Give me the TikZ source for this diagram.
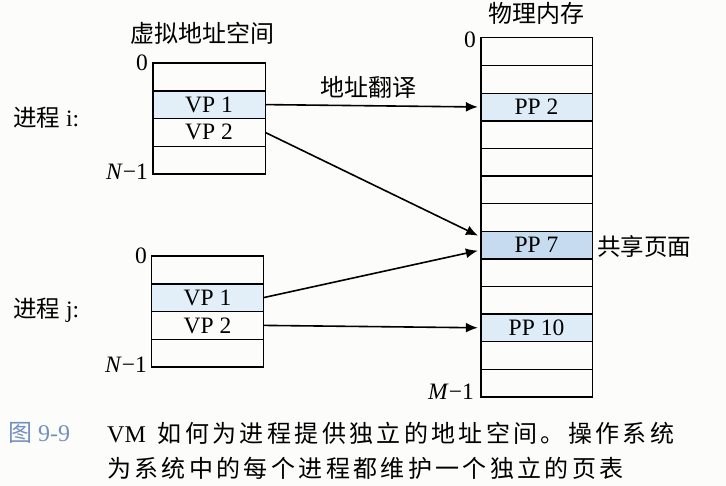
\documentclass[tikz,border=0pt]{standalone}
\usepackage{fontspec}
\setmainfont{Liberation Serif}
\newfontfamily\cjk{Noto Sans CJK SC}
\newfontfamily\cjkcap{Noto Sans CJK SC}[LetterSpace=14]
\usetikzlibrary{arrows.meta}
\definecolor{bg}{RGB}{252,252,250}
\definecolor{vpfill}{RGB}{226,238,248}
\definecolor{ppfill}{RGB}{222,236,248}
\definecolor{sharefill}{RGB}{198,219,240}
\definecolor{capblue}{RGB}{115,145,190}
\tikzset{
  cell/.style={minimum width=112pt, minimum height=27.75pt,
    inner sep=0pt, font=\fontsize{23.5}{23.5}\selectfont},
  memcell/.style={cell, minimum width=111pt, minimum height=27.6pt},
  grid/.style={draw=black, line width=1.4pt},
  lbl/.style={inner sep=0pt, font=\fontsize{23.5}{23.5}\selectfont},
  zh/.style={inner sep=0pt, font=\fontsize{23.5}{23.5}\selectfont\cjk},
  link/.style={line width=1.6pt, -{Latex[length=12pt,width=10pt]}, shorten >=3pt},
  captxt/.style={inner sep=0pt, anchor=west, font=\fontsize{24}{24}\selectfont}
}
\begin{document}
\begin{tikzpicture}[x=1pt, y=-1pt]
  \useasboundingbox (0,0) rectangle (726,486);
  \fill[bg] (0,0) rectangle (726,486);

  % process i virtual address space
  \node[cell] (i0) at (209,76.9) {};
  \node[cell, fill=vpfill] (i1) at (209,104.6) {VP 1};
  \node[cell] (i2) at (209,132.4) {VP 2};
  \node[cell] (i3) at (209,160.1) {};
  \draw[grid] (i0.north west) rectangle (i3.south east);
  \foreach \k in {0,1,2}{ \draw[grid] (i\k.south west) -- (i\k.south east); }

  % process j virtual address space
  \node[cell] (j0) at (207.5,269.9) {};
  \node[cell, fill=vpfill] (j1) at (207.5,297.6) {VP 1};
  \node[cell] (j2) at (207.5,325.4) {VP 2};
  \node[cell] (j3) at (207.5,353.1) {};
  \draw[grid] (j0.north west) rectangle (j3.south east);
  \foreach \k in {0,1,2}{ \draw[grid] (j\k.south west) -- (j\k.south east); }

  % physical memory
  \foreach \k in {0,1,3,4,5,6,8,9,11,12}{
    \node[memcell] (m\k) at (536.5,{51.8+27.6*\k}) {};
  }
  \node[memcell, fill=ppfill] (m2) at (536.5,{51.8+27.6*2}) {PP 2};
  \node[memcell, fill=sharefill] (m7) at (536.5,{51.8+27.6*7}) {PP 7};
  \node[memcell, fill=ppfill] (m10) at (536.5,{51.8+27.6*10}) {PP 10};
  \draw[grid] (m0.north west) rectangle (m12.south east);
  \foreach \k in {0,...,11}{ \draw[grid] (m\k.south west) -- (m\k.south east); }

  % labels
  \node[zh, font=\fontsize{24}{24}\selectfont\cjk] (vas) at (202,33) {虚拟地址空间};
  \node[zh, font=\fontsize{24}{24}\selectfont\cjk] (pm) at (536,13) {物理内存};
  \node[lbl, anchor=east] (i0l) at (148,63) {0};
  \node[lbl, anchor=east] (iNl) at (148,172) {\textit{N}−1};
  \node[lbl, anchor=east] (j0l) at (147,256) {0};
  \node[lbl, anchor=east] (jNl) at (147,365) {\textit{N}−1};
  \node[lbl, anchor=east] (m0l) at (476,40) {0};
  \node[lbl, anchor=east] (mMl) at (474,392) {\textit{M}−1};
  \node[lbl, anchor=west] (pi) at (13,118) {{\cjk 进程} i:};
  \node[lbl, anchor=west] (pj) at (13,310) {{\cjk 进程} j:};
  \node[zh, font=\fontsize{24}{24}\selectfont\cjk] (trans) at (368,87) {地址翻译};
  \node[zh, anchor=west] (shared) at (597,247) {共享页面};

  % connectors
  \draw[link] (i1.east) -- (m2.west);
  \draw[link] (i2.east) -- ([yshift=8pt]m7.west);
  \draw[link] (j1.east) -- ([yshift=-5pt]m7.west);
  \draw[link] (j2.east) -- (m10.west);

  % caption
  \node[captxt, text=capblue] (fig) at (8,433) {{\cjk 图} 9-9};
  \node[captxt] (c1) at (107,433) {VM\hspace{6pt} {\cjkcap 如何为进程提供独立的地址空间。操作系统}};
  \node[captxt] (c2) at (107,468) {{\cjkcap 为系统中的每个进程都维护一个独立的页表}};
\end{tikzpicture}
\end{document}
